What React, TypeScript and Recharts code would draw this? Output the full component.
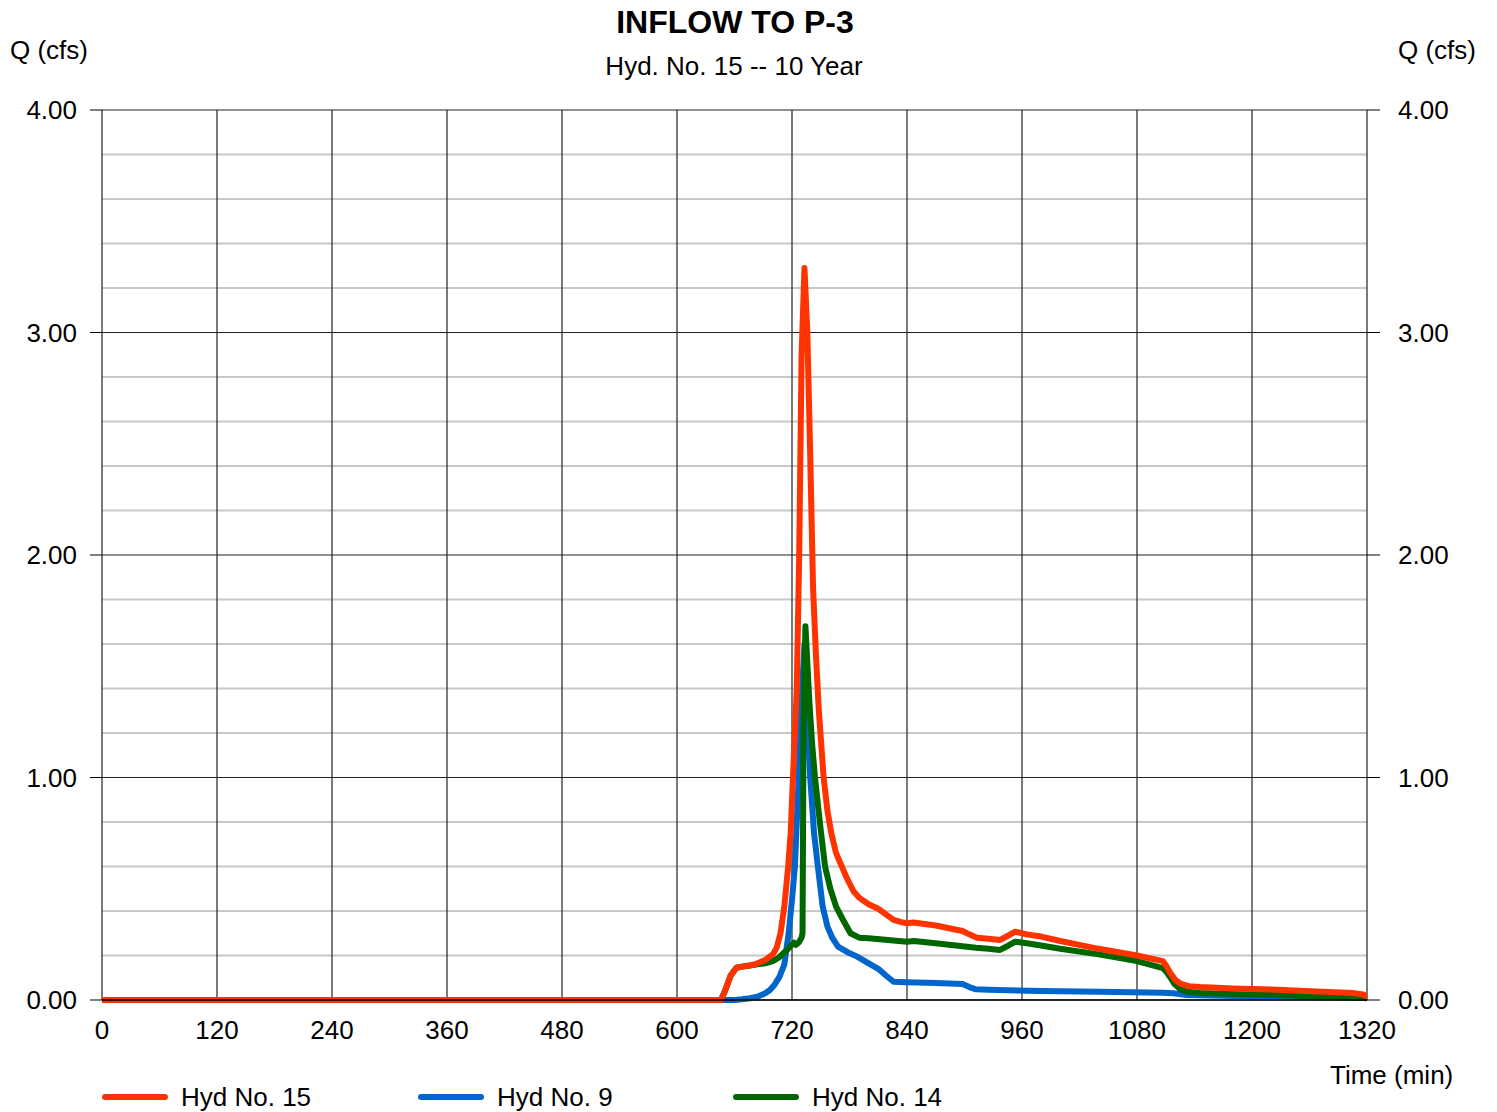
import React from "react";
import { LineChart, Line, XAxis, YAxis, CartesianGrid } from "recharts";

// time (min) / flow (cfs)
const hyd15Time = [0, 646, 650, 656, 662, 668, 676, 684, 692, 700, 704, 708, 712, 716, 718.6, 721, 725, 727.5, 730, 733, 736, 739, 742, 745, 748, 753, 757, 761, 766, 772, 777, 784, 790, 800, 810, 818, 826, 834, 840, 847, 870, 898, 905, 913, 925, 937, 946, 953, 965, 980, 1000, 1040, 1080, 1107, 1111, 1115, 1120, 1126, 1134, 1146, 1180, 1220, 1250, 1280, 1306, 1316, 1320];
const hyd15Q = [0, 0, 0.04, 0.11, 0.145, 0.15, 0.155, 0.165, 0.18, 0.205, 0.235, 0.3, 0.42, 0.6, 0.75, 1.0, 1.4, 2.0, 2.9, 3.29, 3.0, 2.45, 1.85, 1.55, 1.3, 1.0, 0.85, 0.75, 0.66, 0.6, 0.55, 0.49, 0.46, 0.43, 0.41, 0.385, 0.36, 0.35, 0.345, 0.348, 0.335, 0.31, 0.295, 0.28, 0.275, 0.27, 0.29, 0.307, 0.295, 0.285, 0.265, 0.23, 0.2, 0.175, 0.15, 0.12, 0.09, 0.072, 0.062, 0.058, 0.052, 0.047, 0.042, 0.036, 0.031, 0.025, 0.015];

const hyd9Time = [0, 660, 668, 676, 684, 692, 697, 702, 707, 712, 716.5, 720, 723, 727, 730, 733, 735, 739, 743, 747, 752, 757, 762, 768, 778, 788, 800, 810, 818, 826, 840, 870, 898, 905, 912, 925, 980, 1040, 1107, 1118, 1132, 1180, 1260, 1320];
const hyd9Q = [0, 0, 0.003, 0.008, 0.015, 0.03, 0.045, 0.07, 0.105, 0.16, 0.3, 0.45, 0.6, 1.0, 1.35, 1.6, 1.35, 1.0, 0.75, 0.6, 0.42, 0.33, 0.28, 0.24, 0.215, 0.195, 0.165, 0.14, 0.11, 0.082, 0.08, 0.076, 0.072, 0.058, 0.048, 0.046, 0.04, 0.037, 0.033, 0.03, 0.022, 0.018, 0.013, 0.01];

const hyd14Time = [0, 646, 650, 656, 662, 668, 676, 684, 692, 700, 706, 711, 716, 720, 722, 724, 727, 730, 731, 732, 734, 738, 741, 744, 749, 754.5, 760, 766, 772, 781, 790, 800, 820, 840, 847, 870, 898, 912, 925, 937, 946, 953, 965, 980, 1000, 1040, 1080, 1107, 1111, 1115, 1119, 1125, 1132, 1146, 1180, 1220, 1260, 1300, 1320];
const hyd14Q = [0, 0, 0.04, 0.11, 0.145, 0.15, 0.155, 0.16, 0.165, 0.175, 0.19, 0.21, 0.23, 0.25, 0.258, 0.248, 0.258, 0.28, 0.3, 1.2, 1.68, 1.35, 1.15, 1.0, 0.8, 0.6, 0.5, 0.42, 0.37, 0.3, 0.28, 0.278, 0.27, 0.262, 0.265, 0.255, 0.242, 0.235, 0.23, 0.225, 0.245, 0.262, 0.255, 0.245, 0.23, 0.205, 0.175, 0.143, 0.125, 0.1, 0.072, 0.05, 0.037, 0.032, 0.027, 0.022, 0.018, 0.013, 0.008];

const xTicks = [0, 120, 240, 360, 480, 600, 720, 840, 960, 1080, 1200, 1320];
const yTicks = [0, 1, 2, 3, 4];
const yMinor = [0.2, 0.4, 0.6, 0.8, 1.2, 1.4, 1.6, 1.8, 2.2, 2.4, 2.6, 2.8, 3.2, 3.4, 3.6, 3.8];

const series = [
  { name: "Hyd No. 15", color: "#ff3300", time: hyd15Time, q: hyd15Q },
  { name: "Hyd No. 9", color: "#0066cc", time: hyd9Time, q: hyd9Q },
  { name: "Hyd No. 14", color: "#006600", time: hyd14Time, q: hyd14Q },
];

const toRows = (t: number[], q: number[]) => t.map((x, i) => ({ t: x, q: q[i] }));

const FONT = '"Liberation Sans", Arial, sans-serif';
const tickStyle = { fontSize: 26, fill: "#000", fontFamily: FONT };

function Txt({ x, y, children, bold, size = 26, align = "left" }: any) {
  return (
    <div
      style={{
        position: "absolute",
        left: x,
        top: y,
        transform: align === "center" ? "translate(-50%, -50%)" : "translateY(-50%)",
        fontSize: size,
        fontWeight: bold ? "bold" : "normal",
        lineHeight: 1,
        whiteSpace: "nowrap",
        color: "#000",
      }}
    >
      {children}
    </div>
  );
}

// draw order: blue under green under red
const drawOrder = [series[1], series[2], series[0]];
const legendX = [102, 418, 733];

export default function App() {
  return (
    <div style={{ position: "absolute", left: 0, top: 0, width: 1497, height: 1112, fontFamily: FONT, background: "#fff" }}>
      <LineChart width={1497} height={1112} margin={{ top: 110, right: 0, bottom: 0, left: 0 }}>
        <CartesianGrid yAxisId="left" horizontalValues={yMinor} vertical={false} stroke="#c8c8c8" strokeWidth={2} />
        <CartesianGrid yAxisId="left" horizontalValues={yTicks} verticalValues={xTicks} stroke="#222" strokeWidth={1.2} />
        <XAxis
          dataKey="t"
          type="number"
          domain={[0, 1320]}
          ticks={xTicks}
          allowDataOverflow
          height={112}
          tickLine={false}
          tickSize={0}
          tickMargin={21}
          axisLine={{ stroke: "#000", strokeWidth: 1.5 }}
          tick={tickStyle}
          interval={0}
        />
        <YAxis
          yAxisId="left"
          domain={[0, 4]}
          ticks={yTicks}
          width={102}
          tickSize={12}
          tickMargin={13}
          axisLine={false}
          tickLine={{ stroke: "#000" }}
          tick={tickStyle}
          tickFormatter={(v: number) => v.toFixed(2)}
          interval={0}
        />
        <YAxis
          yAxisId="right"
          orientation="right"
          domain={[0, 4]}
          ticks={yTicks}
          width={130}
          tickSize={13}
          tickMargin={18}
          axisLine={false}
          tickLine={{ stroke: "#000" }}
          tick={tickStyle}
          tickFormatter={(v: number) => v.toFixed(2)}
          interval={0}
        />
        <Line
          yAxisId="right"
          data={toRows(hyd15Time, hyd15Q)}
          dataKey="q"
          stroke="none"
          dot={false}
          activeDot={false}
          legendType="none"
          isAnimationActive={false}
        />
        {drawOrder.map((s) => (
          <Line
            key={s.name}
            yAxisId="left"
            data={toRows(s.time, s.q)}
            dataKey="q"
            type="linear"
            stroke={s.color}
            strokeWidth={6}
            strokeLinecap="round"
            strokeLinejoin="round"
            dot={false}
            activeDot={false}
            isAnimationActive={false}
          />
        ))}
      </LineChart>

      <Txt x={735} y={22} size={32} bold align="center">INFLOW TO P-3</Txt>
      <Txt x={734} y={66} align="center">Hyd. No. 15 -- 10 Year</Txt>
      <Txt x={10} y={50}>Q (cfs)</Txt>
      <Txt x={1398} y={50}>Q (cfs)</Txt>
      <Txt x={1330} y={1075}>Time (min)</Txt>

      {series.map((s, i) => (
        <React.Fragment key={s.name}>
          <div
            style={{
              position: "absolute",
              left: legendX[i],
              top: 1094,
              width: 66,
              height: 6,
              borderRadius: 3,
              background: s.color,
            }}
          />
          <Txt x={legendX[i] + 79} y={1097}>{s.name}</Txt>
        </React.Fragment>
      ))}
    </div>
  );
}
